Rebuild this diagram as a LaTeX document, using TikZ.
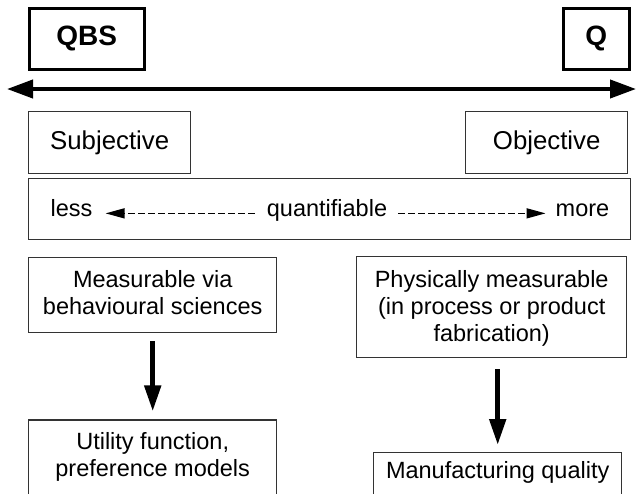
\documentclass[tikz,border=0pt]{standalone}
\usepackage{fontspec}
\setmainfont{Liberation Sans}
\usetikzlibrary{arrows.meta,positioning}

\begin{document}
\begin{tikzpicture}[x=1pt, y=-1pt, font=\fontsize{23.5}{27}\selectfont]
\tikzstyle{box}=[rectangle, draw=black!80, line width=1.4pt, inner sep=0pt, align=center, anchor=north west]
\tikzstyle{endbox}=[box, draw=black, line width=2.6pt, font=\fontsize{28}{32}\selectfont\bfseries]
\tikzstyle{sidebox}=[box, minimum width=162pt, minimum height=62pt, font=\fontsize{25.8}{30}\selectfont]
\tikzstyle{plain}=[inner sep=0pt, anchor=base]
\tikzstyle{arrow}=[-{Triangle[length=26pt, width=16pt]}, line width=5pt]
\tikzstyle{axisarrow}=[{Triangle[length=26pt, width=18pt]}-{Triangle[length=26pt, width=18pt]}, line width=4pt]
\tikzstyle{dasharrow}=[-{Triangle[length=19pt, width=10pt]}, line width=1.5pt, dash pattern=on 6.5pt off 3.5pt]
\useasboundingbox (0,0) rectangle (636,493);
\clip (0,0) rectangle (636,493);
% extremes of the scale
\node (qbs) [endbox, minimum width=115pt, minimum height=61pt] at (28,7) {QBS};
\node (q) [endbox, minimum width=66pt, minimum height=61pt] at (562,7) {Q};
\coordinate (lend) at (7,89);
\coordinate (rend) at (636,89);
\draw[axisarrow] (lend) -- (rend);
% subjective / objective
\node (subj) [sidebox] at (28,111) {Subjective};
\node (obj) [sidebox] at (465,111) {Objective};
\node (quantbox) [box, minimum width=602pt, minimum height=61pt] at (28,178) {};
\node (less) [plain] at (71.5,216) {less};
\node (quant) [plain] at (327,216) {quantifiable};
\node (more) [plain] at (582.5,216) {more};
\draw[dasharrow, shorten <=12pt, shorten >=13pt] (quant.mid west) -- (less.mid east);
\draw[dasharrow, shorten <=11pt, shorten >=10pt] (quant.mid east) -- (more.mid west);
% measurement branches
\node (meas) [box, minimum width=248pt, minimum height=75pt, text height=44pt, text depth=5pt] at (28,257) {Measurable via\\behavioural sciences};
\node (phys) [box, minimum width=270pt, minimum height=101pt, text height=71pt, text depth=2pt] at (356,256) {Physically measurable\\(in process or product\\fabrication)};
\node (util) [box, below=86pt of meas, minimum width=248pt, minimum height=90pt, text height=44pt, text depth=22pt] {Utility function,\\preference models};
\node (manu) [box, minimum width=248pt, minimum height=50pt, text height=17pt, text depth=15pt] at (373,452) {Manufacturing quality};
\draw[arrow, shorten <=8pt, shorten >=8pt] (meas) -- (util);
\draw[arrow, shorten <=11pt, shorten >=7pt] (phys.south -| manu.north) -- (manu.north);
\end{tikzpicture}
\end{document}
